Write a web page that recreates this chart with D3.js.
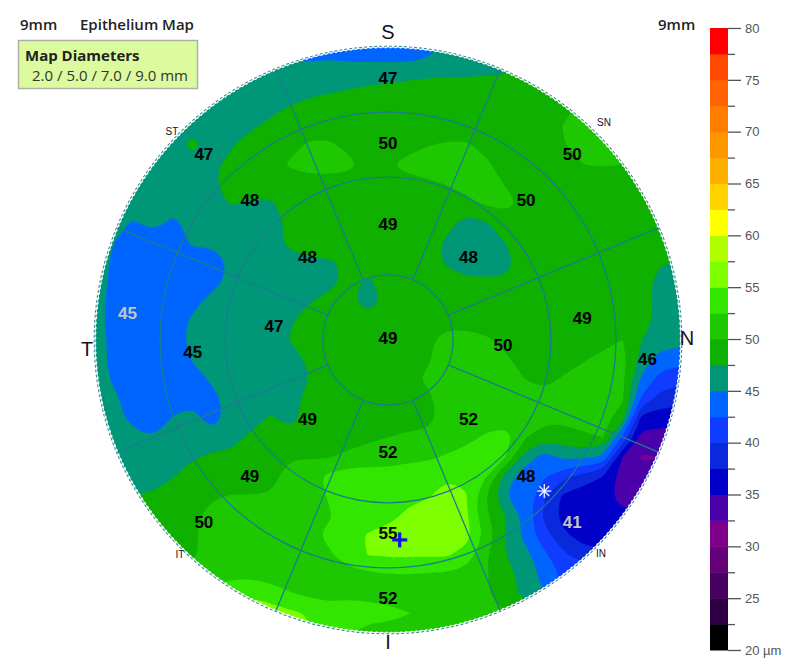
<!DOCTYPE html>
<html>
<head>
<meta charset="utf-8">
<title>Epithelium Map</title>
<script src="https://cdn.jsdelivr.net/npm/d3@7"></script>
<style>
	html, body { margin: 0; padding: 0; background: #fff; }
	svg { display: block; }
	text { font-family: "Liberation Sans", Arial, sans-serif; }
</style>
</head>
<body>
<svg id="chart" width="800" height="666"></svg>
<script>
// epithelium thickness in um, sampled every 0.3 mm, top row is superior
var thicknessRows = [
	[46,46,46,46,46,46,46,46,46,45.5,44.5,44,44,43,43,43,43,43.5,46,46,46,46,47,48,49,49,49,49,49,49,49],
	[46,46,46,46,46,46,46,46,46,45.2,45.3,45.3,45.6,45.6,45.6,45.6,45.6,46,46,46,46,46.5,47.4,49,49,49,49,49,49,49,49],
	[46,46,46,46,46,46,46,46,46,46,46,46.2,46.6,47.2,47.5,47.9,48.2,48.5,48.6,48.8,49,49,49,49,49,49,49,49,49,49,49],
	[46,46,46,46,46,46,46,46,46.2,46.8,47.5,48.4,49,49,49,49,49,49,49,49,49,49,49,49,49,50.6,49,49,49,49,49],
	[46,46,46,46,46,46,46,46,47,48,49,49,49,49,49,49,49,49,49,49,49,49,49,49,50.1,51,50.4,49.5,49.5,49.5,49.5],
	[46,46,46,46,46,48.5,46,47.2,49,49,49.3,50.3,50.3,49.4,49,49,49,49.9,50.2,50.2,49.4,49,49,49,49.9,51.5,51.3,50,49,49,49],
	[46,46,46,46,46,46,46.8,48.5,49,49,50.3,51,51,50.6,49,49.8,50.8,51,51,51,50.4,49,49,49,49,50,50.2,50,49,49,49],
	[46,46,46,46,46,46,47.1,49,49,49,49,49,49,49,49,49,49.2,49.6,50.1,50.8,51,49.9,49,49,49,49,49,49,49,49,49],
	[46,46,46,46,46,46,46.6,47.7,47,47.2,48.5,49,49,49,49,49,49,49,49,49.4,50.3,50.6,49.6,49,49,49,49,49,49,49,49],
	[46,45.5,44.8,45.8,44.5,45.8,46,46,46.2,46.5,48,49,49,49,49,49,49,49,48.5,46.5,47.3,49,49,49,49,49,49,49,49,49,49],
	[46,45,43.5,43.5,43.5,45.5,45.5,46,46,46.5,48.2,49,49,49,49,49,49,49,47,46,46,47.5,49,49,49,49,49,49,49,48.8,48.8],
	[46,44.6,43.5,43.5,43.5,43.5,43.5,45.5,46,46.5,46.5,47,47.2,48,49,49,49,49,47,46,46,46.5,48.7,49,49,49,49,49,49,47.6,47.5],
	[46,44.5,43.5,43.5,43.5,43.5,43.8,46,46,46,46,46.3,46.5,48.3,47,49,49,49,49,48,48,47.8,49,49,49,49,49,49,49,46,46],
	[46,44,43.5,43.5,43.5,44,46,46,46,46,46.5,47.3,48.5,48.2,45.8,48.6,49,49,49,49,49,49,49,49,49,49,49,49,49,46,46],
	[46,44,43.5,43.5,43.5,45.5,46,46,46,46,47.3,48.5,49,49,48.7,49,49,49,49,49,49,49,49,49,49,49,49,49,49,46.3,46.3],
	[46.5,44,43.5,43.5,43.5,46,46,46,46,46,47.6,49,49,49,49,49,49,49.5,51,51,50.3,49.5,49,49,49,49,49,50,47.5,46.2,46.2],
	[46.5,44,43.5,43.5,43.5,45.2,46,46,46,46,46.5,47.9,49,49,49,49,49,49.7,51,51,51,50.3,49.3,49,49.3,49.8,50.8,51,46.5,43.6,43.6],
	[46.5,44.5,43.5,43.5,43.5,43.8,45.4,46,46,46,46.3,47.5,49,49,49,49,49.2,50.4,51,51,51,51,50,49.5,50.2,51,51,50.5,44.5,41.5,41],
	[47,45.5,43.5,43.5,43.8,44.4,44.3,46,46,46,46.5,48.5,49,49,49,49,49.2,49.5,51,51,51,51,51,50.5,51,51,51,50.5,42,38.8,38.5],
	[47,46,44,43.5,45.2,45.7,44,46,46.5,47.8,46.5,48.8,49,49,49,49,49,49.2,51,51,51,51.2,51,50.8,50.5,51,51,48.5,36.5,36.2,36],
	[47,46.5,46,45,46,46,46,46.8,48,49,49,49,49,49.2,49.6,50,50.5,50.6,51,51.6,53,53.8,50.2,48.2,49,49.5,50,42,34,34,33],
	[47,46.5,46,46,46,47.2,48,48,49,49,49.9,49.8,49.9,50.5,51,51,51.8,52,52.8,53.8,54.2,52.6,46.5,44,45.5,45.5,44.5,35,32.2,32.5,33],
	[46,46,46,46.5,47.4,49,49,49,49,49.5,50.7,51.5,53.2,54,54,54,54,54.5,54.8,54.5,52.6,46.5,43.5,42.8,40.5,39,37.5,33.8,33.5,33.5,33.5],
	[47.6,47.6,47.6,47.8,49,49,49.8,50.1,50.1,50.1,51,51.5,52.7,54,54,54,54.5,54.7,56,55.2,50,45,44.3,40.2,37,36,36,34,33.5,33.5,33.5],
	[49,49,49,49,49,49.5,50.7,51,51,51,51,51.5,52.3,54,54,54.3,55.4,56.5,56.5,55.4,50.5,47.5,44.5,39.5,36.5,36,36,35.5,36,36,36],
	[49,49,49,49,49,49.7,51,51,51,51,51,52,53,54.3,55.2,55.8,56.8,56.8,56.8,56,52,47.5,44.2,41,38,36.5,36.5,37,37,37,37],
	[50,50,50,50,50,49.6,51,51,51,51,51,51.5,52.2,54,55.1,55.3,55.3,55.3,55.3,54,50.3,47.5,46,43,40.5,38.5,38,38,38,38,38],
	[51.5,51.5,51.5,51.5,51.5,51.5,52,52.3,51.8,51.2,51,51,51.2,51.5,52,52.4,52.5,52.2,52.2,51.5,50.2,48.7,46.5,44.2,42,42,42,42,42,42,42],
	[52,52,52,52,52,52,53,53,54.8,54,52.7,52,51.9,52.1,51.8,51.5,51.5,51.5,51.5,51.5,50.2,49,46.5,45,42,42,42,42,42,42,42],
	[56,56,56,56,56,56,56,56,56,56,55.5,54.9,53.4,53.5,53.5,53.3,52.6,52,51.5,51,50.2,50,50,50,50,50,50,50,50,50,50],
	[56,56,56,56,56,56,56,56,56,56,56,55,53,52.8,51.5,51.5,51,50.8,50.8,50.8,50.8,50.8,50.8,50.8,50.8,50.8,50.8,50.8,50.8,50.8,50.8]
];

// lower edge of each colour band and its colour, low to high
var bandLevels = [20,22.5,25,27.5,30,32.5,35,37.5,40,42.5,45,47.5,50,52.5,55,57.5,60,62.5,65,67.5,70,72.5,75,77.5];
var bandColors = ["#000000","#2d0046","#46005f","#640078","#7d008c","#4b00aa","#0000c8","#0a28dc","#0f3cff","#0064ff","#009678","#0fb000","#1ec800","#32e600","#7dff00","#afff00","#ffff00","#ffd200","#ffaf00","#ff9600","#ff7d00","#ff6400","#ff4b00","#ff0000"];
var scaleTicks = [80,75,70,65,60,55,50,45,40,35,30,25,20];
var scaleMinorTicks = [77.5,72.5,67.5,62.5,57.5,52.5,47.5,42.5,37.5,32.5,27.5,22.5];

// sector order: S, SN, N, IN, I, IT, T, ST
var centerValue = [49];
var innerRingValues = [49,48,50,52,52,49,47,48];
var middleRingValues = [50,50,49,48,55,49,45,48];
var outerRingValues = [47,50,46,41,52,50,45,47];
var ringMidRadii = [1.75,3,4];
var ringRadii = [1,2.5,3.5];
var sectorNames = ["S","SN","N","IN","I","IT","T","ST"];

var svg = d3.select("#chart");

var sampleStep = 0.3;
var nCols = thicknessRows[0].length;
var nRows = thicknessRows.length;
var xMm = d3.scaleLinear().domain([-4.5, 4.5]).range([95, 681]);
var yMm = d3.scaleLinear().domain([4.5, -4.5]).range([47, 633]);
var rMm = d3.scaleLinear().domain([0, 4.5]).range([0, 293]);
var yBar = d3.scaleLinear().domain([80, 20]).range([28, 650]);
var cx = xMm(0), cy = yMm(0);

// contour rings go grid index -> mm -> pixel, drawn with a closed basis curve
var ringLine = d3.line()
	.x(function (p) { return xMm((p[0] - 0.5) * sampleStep - 4.5); })
	.y(function (p) { return yMm(4.5 - (p[1] - 0.5) * sampleStep); })
	.curve(d3.curveBasisClosed);

function contourPath(d) {
	return d.coordinates.map(function (polygon) {
		return polygon.map(function (ring) { return ringLine(ring.slice(0, -1)); }).join("");
	}).join("");
}

var contours = d3.contours()
	.size([nCols, nRows])
	.smooth(true)
	.thresholds(bandLevels)(d3.merge(thicknessRows));

svg.append("clipPath").attr("id", "disc")
	.append("circle").attr("cx", cx).attr("cy", cy).attr("r", rMm(4.5) - 0.5);

var gMap = svg.append("g").attr("clip-path", "url(#disc)").style("filter", "blur(0.5px)");
gMap.selectAll("path").data(contours).enter().append("path")
	.attr("d", contourPath)
	.attr("fill", function (d) { return bandColors[bandLevels.indexOf(d.value)]; });

// scalloped rim
svg.append("circle").attr("cx", cx).attr("cy", cy).attr("r", rMm(4.5) - 0.4)
	.attr("fill", "none").attr("stroke", "#fff").attr("stroke-width", 1.6).attr("stroke-dasharray", "2 3");
svg.append("circle").attr("cx", cx).attr("cy", cy).attr("r", rMm(4.5) + 0.8)
	.attr("fill", "none").attr("stroke", "#3d8f9a").attr("stroke-width", 1.1).attr("stroke-dasharray", "3 2");

// rings and spokes
var gridColor = "#1a7d8c";
svg.selectAll("circle.ring").data(ringRadii).enter().append("circle").attr("class", "ring")
	.attr("cx", cx).attr("cy", cy).attr("r", function (d) { return rMm(d); })
	.attr("fill", "none").attr("stroke", gridColor).attr("stroke-width", 1.3);

svg.selectAll("line.spoke").data(sectorNames).enter().append("line").attr("class", "spoke")
	.each(function (d, i) {
		var a = (i * 45 + 22.5) * Math.PI / 180;
		d3.select(this)
			.attr("x1", cx + rMm(1) * Math.sin(a)).attr("y1", cy - rMm(1) * Math.cos(a))
			.attr("x2", cx + rMm(4.5) * Math.sin(a)).attr("y2", cy - rMm(4.5) * Math.cos(a));
	})
	.attr("stroke", gridColor).attr("stroke-width", 1.3);

// sector values
var labelRows = [innerRingValues, middleRingValues, outerRingValues];
var gLabels = svg.append("g").attr("font-size", 17).attr("font-weight", "bold").attr("text-anchor", "middle");

// a few labels sit off the sector centre line in the original
function nudge(ring, sector) {
	if (sector === 2) return [[1, 7], [-1, -20], [-1, 21]][ring];
	if (sector === 6) return [[0, -12], [0, 14], [0, -25]][ring];
	return [0, 0];
}

labelRows.forEach(function (values, ring) {
	gLabels.selectAll("text.r" + ring).data(values).enter().append("text").attr("class", "r" + ring)
		.attr("x", function (d, i) {
			return cx + rMm(ringMidRadii[ring]) * Math.sin(i * Math.PI / 4) + nudge(ring, i)[0];
		})
		.attr("y", function (d, i) {
			return cy - rMm(ringMidRadii[ring]) * Math.cos(i * Math.PI / 4) + nudge(ring, i)[1] + 4;
		})
		.attr("fill", function (d, i) {
			return ring === 2 && (i === 3 || i === 6) ? "#c4c4c4" : "#000";
		})
		.text(function (d) { return d; });
});
gLabels.selectAll("text.center").data(centerValue).enter().append("text").attr("class", "center")
	.attr("x", cx).attr("y", cy + 4).text(function (d) { return d; });

// thickest and thinnest point markers
var plusAt = [0.18, -3.07];
var starAt = [2.4, -2.32];
[0, 90].forEach(function (deg) {
	var a = deg * Math.PI / 180;
	svg.append("line")
		.attr("x1", xMm(plusAt[0]) - 7.5 * Math.cos(a)).attr("y1", yMm(plusAt[1]) - 7.5 * Math.sin(a))
		.attr("x2", xMm(plusAt[0]) + 7.5 * Math.cos(a)).attr("y2", yMm(plusAt[1]) + 7.5 * Math.sin(a))
		.attr("stroke", "#1414e6").attr("stroke-width", 3.2);
});
[0, 45, 90, 135].forEach(function (deg) {
	var a = deg * Math.PI / 180;
	svg.append("line")
		.attr("x1", xMm(starAt[0]) - 7 * Math.cos(a)).attr("y1", yMm(starAt[1]) - 7 * Math.sin(a))
		.attr("x2", xMm(starAt[0]) + 7 * Math.cos(a)).attr("y2", yMm(starAt[1]) + 7 * Math.sin(a))
		.attr("stroke", "#fff").attr("stroke-width", 1.2);
});

// compass letters
var compass = [["S", 388, 39, 20], ["N", 687, 345, 20], ["T", 87, 356, 20], ["I", 388, 649, 20],
	["SN", 604, 126, 10], ["ST", 172, 135, 10], ["IT", 180, 558, 10], ["IN", 601, 557, 10]];
svg.append("g").selectAll("text").data(compass).enter().append("text")
	.attr("x", function (d) { return d[1]; })
	.attr("y", function (d) { return d[2]; })
	.attr("font-size", function (d) { return d[3]; })
	.attr("text-anchor", "middle").attr("fill", "#1a1020")
	.text(function (d) { return d[0]; });

// header and diameters box
var uiFont = '"Open Sans", "Noto Sans", sans-serif';
svg.append("text").attr("x", 20).attr("y", 30).attr("font-size", 15).attr("font-weight", 600)
	.style("font-family", uiFont).attr("fill", "#222").text("9mm");
svg.append("text").attr("x", 80).attr("y", 30).attr("font-size", 15).attr("font-weight", 600)
	.style("font-family", uiFont).attr("fill", "#222").text("Epithelium Map");
svg.append("text").attr("x", 658).attr("y", 30).attr("font-size", 15).attr("font-weight", 600)
	.style("font-family", uiFont).attr("fill", "#222").text("9mm");

svg.append("rect").attr("x", 18.5).attr("y", 40.5).attr("width", 179).attr("height", 48)
	.attr("fill", "#dcfb9e").attr("stroke", "#b0b0a8").attr("stroke-width", 1.5);
svg.append("text").attr("x", 25).attr("y", 61).attr("font-size", 15).attr("font-weight", 700)
	.style("font-family", uiFont).attr("fill", "#222").text("Map Diameters");
svg.append("text").attr("x", 32).attr("y", 81).attr("font-size", 15)
	.style("font-family", uiFont).attr("fill", "#333").text("2.0 / 5.0 / 7.0 / 9.0 mm");

// colour bar
var gBar = svg.append("g");
gBar.selectAll("rect").data(bandLevels).enter().append("rect")
	.attr("x", 710).attr("width", 18)
	.attr("y", function (d) { return yBar(d + 2.5); })
	.attr("height", function (d) { return yBar(d) - yBar(d + 2.5) + 0.5; })
	.attr("fill", function (d, i) { return bandColors[i]; });

var axis = d3.axisRight(yBar).tickValues(scaleTicks).tickSize(13).tickFormat(function (d) {
	return d === 20 ? "20 µm" : d;
});
var gAxis = svg.append("g").attr("transform", "translate(728,0)").call(axis);
gAxis.select(".domain").remove();
gAxis.selectAll("line").attr("stroke", "#555").attr("stroke-width", 1.3);
gAxis.selectAll("text").attr("x", 17).attr("font-size", 13).attr("fill", "#555")
	.style("font-family", '"Liberation Sans", Arial, sans-serif');

var minorAxis = d3.axisRight(yBar).tickValues(scaleMinorTicks).tickSize(7).tickFormat("");
var gMinor = svg.append("g").attr("transform", "translate(728,0)").call(minorAxis);
gMinor.select(".domain").remove();
gMinor.selectAll("line").attr("stroke", "#555").attr("stroke-width", 1.3);
</script>
</body>
</html>
